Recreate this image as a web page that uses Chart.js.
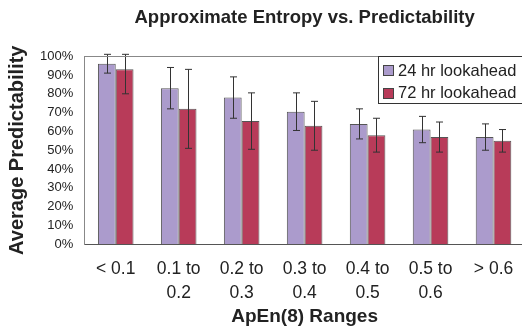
<!DOCTYPE html>
<html lang="en">
<head>
    <meta charset="UTF-8" />
    <title>Approximate Entropy vs. Predictability</title>
    <script src="https://cdn.jsdelivr.net/npm/chart.js"></script>
    <style>
        html, body { margin: 0; padding: 0; background: #fff; overflow: hidden; }
        .wrap { width: 527px; height: 330px; }
    </style>
</head>
<body>
    <div class="wrap"><canvas id="apenChart"></canvas></div>
    <script>
        const categories = ['< 0.1', ['0.1 to', '0.2'], ['0.2 to', '0.3'], ['0.3 to', '0.4'], ['0.4 to', '0.5'], ['0.5 to', '0.6'], '> 0.6'];
        const lookahead24 = [96, 83, 78, 70.5, 64, 61, 57];
        const error24 = [5, 11, 11, 10, 8, 7, 7];
        const lookahead72 = [93, 72, 65.5, 63, 58, 57, 55];
        const error72 = [13, 21, 15, 13, 9, 8, 6];
        const yTicks = [0, 10, 20, 30, 40, 50, 60, 70, 80, 90, 100];

        const FONT = '"Liberation Sans", Arial, sans-serif';

        // error bars, drawn through the y scale
        const errorBars = {
            id: 'errorBars',
            afterDatasetsDraw(chart) {
                const ctx = chart.ctx;
                const y = chart.scales.y;
                ctx.save();
                ctx.strokeStyle = '#333';
                ctx.lineWidth = 1;
                chart.data.datasets.forEach((ds, i) => {
                    chart.getDatasetMeta(i).data.forEach((bar, j) => {
                        const v = ds.data[j], e = ds.errors[j];
                        const top = y.getPixelForValue(Math.min(v + e, 101));
                        const bot = y.getPixelForValue(v - e);
                        const x = Math.round(bar.x) + 0.5;
                        ctx.beginPath();
                        ctx.moveTo(x, top); ctx.lineTo(x, bot);
                        ctx.moveTo(x - 3.5, top); ctx.lineTo(x + 3.5, top);
                        ctx.moveTo(x - 3.5, bot); ctx.lineTo(x + 3.5, bot);
                        ctx.stroke();
                    });
                });
                ctx.restore();
            }
        };

        // top frame line + boxed legend
        const frameLegend = {
            id: 'frameLegend',
            afterDraw(chart) {
                const ctx = chart.ctx;
                const a = chart.chartArea;
                ctx.save();
                ctx.strokeStyle = '#888';
                ctx.lineWidth = 1;
                ctx.beginPath();
                ctx.moveTo(a.left, Math.round(a.top) + 0.5);
                ctx.lineTo(a.right, Math.round(a.top) + 0.5);
                ctx.stroke();

                const bx = Math.round(a.right - 147) + 0.5;
                const by = Math.round(a.top) + 0.5;
                ctx.fillStyle = '#fff';
                ctx.fillRect(bx, by, 160, 47);
                ctx.strokeStyle = '#333';
                ctx.strokeRect(bx, by, 160, 47);

                ctx.font = '16.5px ' + FONT;
                ctx.textBaseline = 'middle';
                chart.data.datasets.forEach((ds, i) => {
                    const cy = by + 13.5 + i * 22.5;
                    ctx.fillStyle = ds.backgroundColor;
                    ctx.fillRect(bx + 5, Math.round(cy - 5) + 0.5, 10, 10);
                    ctx.strokeStyle = '#444';
                    ctx.strokeRect(bx + 5, Math.round(cy - 5) + 0.5, 10, 10);
                    ctx.fillStyle = '#222';
                    ctx.fillText(ds.label, bx + 19.5, cy + 1);
                });
                ctx.restore();
            }
        };

        new Chart(document.getElementById('apenChart').getContext('2d'), {
            type: 'bar',
            data: {
                labels: categories,
                datasets: [{
                    label: '24 hr lookahead',
                    data: lookahead24,
                    errors: error24,
                    backgroundColor: '#ab9bcc',
                    borderColor: '#555',
                    borderWidth: 1
                }, {
                    label: '72 hr lookahead',
                    data: lookahead72,
                    errors: error72,
                    backgroundColor: '#b83b59',
                    borderColor: '#555',
                    borderWidth: 1
                }]
            },
            options: {
                responsive: true,
                maintainAspectRatio: false,
                animation: false,
                layout: { padding: { left: 5, right: 2, top: 0, bottom: 2 } },
                datasets: { bar: { categoryPercentage: 0.565, barPercentage: 1.0 } },
                scales: {
                    x: {
                        grid: { display: false, drawTicks: false },
                        border: { display: true, color: '#555' },
                        ticks: { color: '#222', font: { family: FONT, size: 17.5, lineHeight: 1.37 }, padding: 13, maxRotation: 0, autoSkip: false },
                        title: { display: true, text: 'ApEn(8) Ranges', color: '#222', font: { family: FONT, size: 19, weight: 'bold' }, padding: { top: -13, bottom: 0 } }
                    },
                    y: {
                        min: 0,
                        max: 100,
                        afterBuildTicks: axis => { axis.ticks = yTicks.map(v => ({ value: v })); },
                        grid: { display: false, drawTicks: false },
                        border: { display: true, color: '#888' },
                        ticks: { color: '#222', font: { family: FONT, size: 13 }, padding: 11, autoSkip: false, callback: v => v + '%' },
                        title: { display: true, text: 'Average Predictability', color: '#222', font: { family: FONT, size: 20, weight: 'bold' }, padding: { top: 0, bottom: 0 } }
                    }
                },
                plugins: {
                    legend: { display: false },
                    tooltip: { enabled: false },
                    title: {
                        display: true,
                        fullSize: false,
                        text: 'Approximate Entropy vs. Predictability',
                        color: '#222',
                        font: { family: FONT, size: 18.5, weight: 'bold' },
                        padding: { top: 7, bottom: 27 }
                    }
                }
            },
            plugins: [errorBars, frameLegend]
        });
    </script>
</body>
</html>
